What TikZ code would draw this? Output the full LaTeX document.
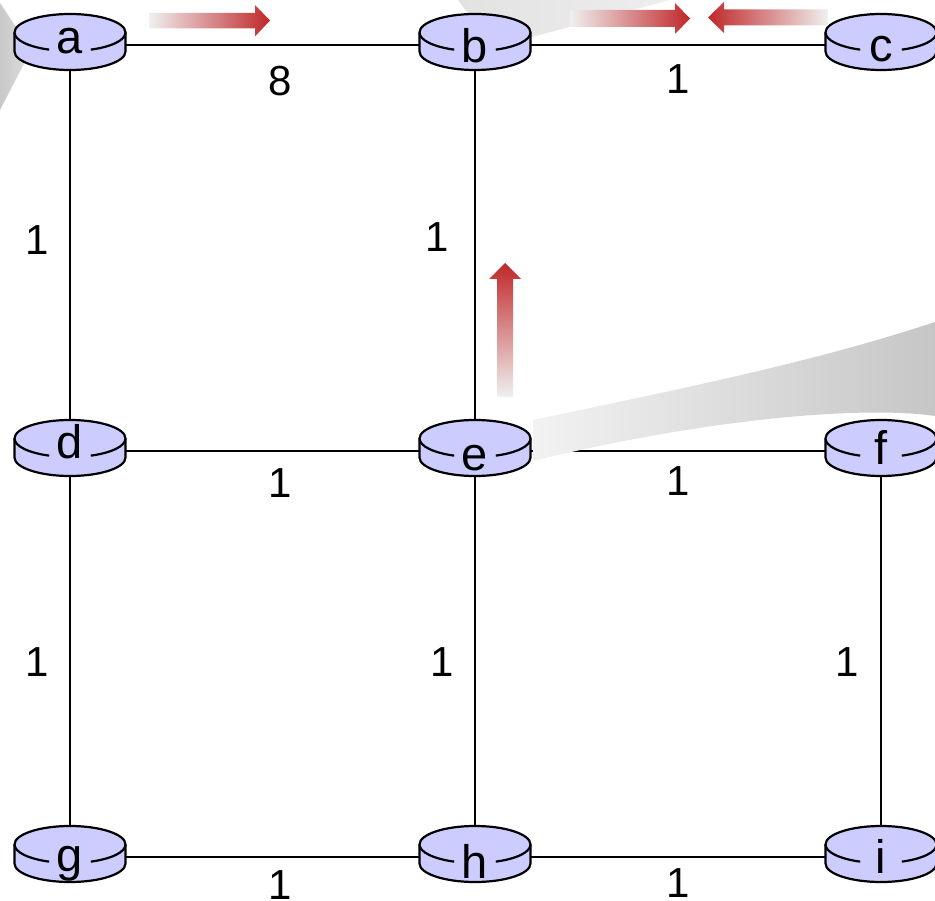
\documentclass[tikz,border=0pt]{standalone}
\usepackage{fontspec}
\setmainfont{Liberation Sans}
\definecolor{routerfill}{HTML}{CCCCFF}
\definecolor{arrowred}{HTML}{C0282A}
\definecolor{fadegray}{HTML}{F0F0F0}
\definecolor{wedgeA}{HTML}{C8C8C8}
\definecolor{wedgeB}{HTML}{DCDCDC}
\definecolor{wedgeC}{HTML}{E2E2E2}
\definecolor{wedgeD}{HTML}{EEEEEE}
\definecolor{wedgeE}{HTML}{F2F2F2}
\definecolor{wedgeF}{HTML}{C6C6C6}
\newcommand\rlift[2]{\raisebox{#1}[\height][\depth]{#2}}
\pgfdeclarelayer{back}
\pgfdeclarelayer{mid}
\pgfsetlayers{back,mid,main}
\begin{document}
\begin{tikzpicture}[x=1pt,y=1pt,
  router/.style={rectangle, inner sep=0pt, minimum width=111pt, minimum height=50pt,
    font=\fontsize{47}{50}\selectfont},
  wlbl/.style={font=\fontsize{42}{46}\selectfont, inner sep=0pt},
  link/.style={line width=2pt, draw=black},
  rbody/.style={fill=routerfill, draw=black, line width=2.2pt, line join=round},
  rline/.style={draw=black, line width=2.2pt}]
\useasboundingbox (0,0) rectangle (935,-901);

% routers (named nodes carrying the letters)
\node[router] (a) at (70,-45) {\rlift{4pt}{a}};
\node[router] (b) at (475,-45) {\rlift{-1pt}{b}};
\node[router] (c) at (881,-45) {\rlift{-4.5pt}{c}};
\node[router] (d) at (70,-451) {\rlift{9pt}{d}};
\node[router] (e) at (475,-451) {\rlift{-7pt}{e}};
\node[router] (f) at (881,-451) {\rlift{3.5pt}{f}};
\node[router] (g) at (70,-857) {\rlift{-7pt}{g}};
\node[router] (h) at (475,-857) {\rlift{-4pt}{h}};
\node[router] (i) at (881,-857) {\rlift{1pt}{i}};

\begin{pgfonlayer}{back}
  % links with costs
  \draw[link] (a) -- node[wlbl, below=20pt, xshift=8pt] (lab) {8} (b);
  \draw[link] (b) -- node[wlbl, below=19pt] (lbc) {1} (c);
  \draw[link] (d) -- node[wlbl, below=17pt, xshift=8pt] (lde) {1} (e);
  \draw[link] (e) -- node[wlbl, below=15pt] (lef) {1} (f);
  \draw[link] (g) -- node[wlbl, below=13pt, xshift=8pt] (lgh) {1} (h);
  \draw[link] (h) -- node[wlbl, below=11pt] (lhi) {1} (i);
  \draw[link] (a) -- node[wlbl, left=20pt, yshift=8pt] (lad) {1} (d);
  \draw[link] (b) -- node[wlbl, left=25pt, yshift=11pt] (lbe) {1} (e);
  \draw[link] (d) -- node[wlbl, left=20pt, yshift=-8pt] (ldg) {1} (g);
  \draw[link] (e) -- node[wlbl, left=20pt, yshift=-8pt] (leh) {1} (h);
  \draw[link] (f) -- node[wlbl, left=21pt, yshift=-8pt] (lfi) {1} (i);
  % grey call-out wedges
  \shade[left color=wedgeA, right color=wedgeB] (0,-3) -- (18,-30) -- (26,-60) -- (0,-110) -- cycle;
  \shade[left color=wedgeC, right color=wedgeD] (458,0) -- (670,0) -- (532,-37) -- (480,-30) -- cycle;
  \shade[left color=wedgeE, right color=wedgeF] (533,-420) .. controls (700,-385) and (820,-360) .. (935,-322)
     -- (935,-416) .. controls (860,-405) and (700,-420) .. (533,-461) -- cycle;
\end{pgfonlayer}

\begin{pgfonlayer}{mid}
  \foreach \n in {a,b,c,d,e,f,g,h,i}{
    \begin{scope}[shift={(\n.center)}]
      \draw[rbody] (-55.5,12.5) arc[start angle=180, end angle=0, x radius=55.5pt, y radius=18.5pt]
        -- (55.5,-6.5) arc[start angle=0, end angle=-180, x radius=55.5pt, y radius=18.5pt] -- cycle;
      \draw[rline] (-55.5,12.5) arc[start angle=180, end angle=248, x radius=55.5pt, y radius=18.5pt];
      \draw[rline] (20.79,-4.65) arc[start angle=292, end angle=360, x radius=55.5pt, y radius=18.5pt];
    \end{scope}
  }
  % fading red arrows
  \shade[left color=fadegray, right color=arrowred]
    (149,-13) -- (255,-13) -- (255,-5) -- (270,-20.5) -- (255,-36.5) -- (255,-28.5) -- (149,-28.5) -- cycle;
  \shade[left color=fadegray, right color=arrowred]
    (570,-10) -- (675,-10) -- (675,-3) -- (690,-18.5) -- (675,-34) -- (675,-27) -- (570,-27) -- cycle;
  \shade[left color=arrowred, right color=fadegray]
    (828,-9.5) -- (724,-9.5) -- (724,-2) -- (708,-17.5) -- (724,-33) -- (724,-25.5) -- (828,-25.5) -- cycle;
  \shade[top color=arrowred, bottom color=fadegray]
    (497,-397) -- (497,-279) -- (489,-279) -- (505,-263) -- (521,-279) -- (513,-279) -- (513,-397) -- cycle;
\end{pgfonlayer}
\end{tikzpicture}
\end{document}
